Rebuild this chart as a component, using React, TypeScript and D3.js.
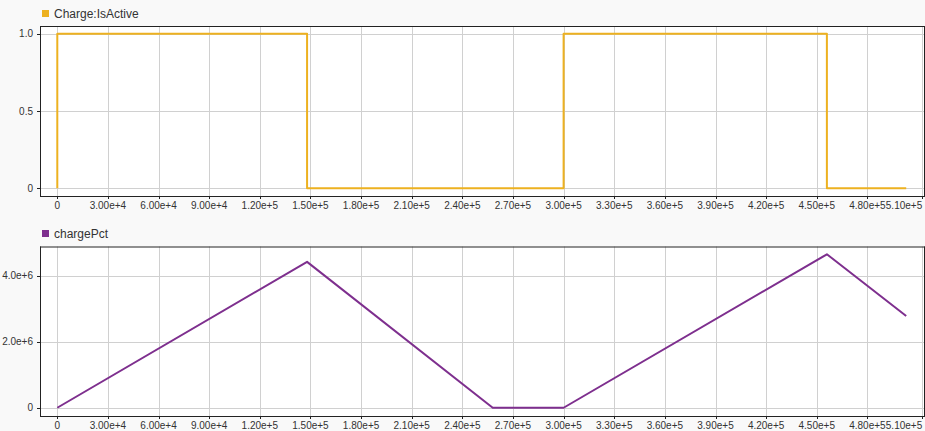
import React from "react";
import * as d3 from "d3";

// ---- data ----
const activeTimes = [0, 0, 148000, 300000, 456000, 503000];
const activeValues = [0, 1, 0, 1, 0, 0];

const chargeTimes = [0, 148000, 258000, 300000, 456000, 503000];
const chargeValues = [0, 4.42e6, 0, 0, 4.65e6, 2.78e6];

const xTickValues = [0, 30000, 60000, 90000, 120000, 150000, 180000, 210000, 240000, 270000, 300000, 330000, 360000, 390000, 420000, 450000, 480000, 512500];
const xTickLabels = ["0", "3.00e+4", "6.00e+4", "9.00e+4", "1.20e+5", "1.50e+5", "1.80e+5", "2.10e+5", "2.40e+5", "2.70e+5", "3.00e+5", "3.30e+5", "3.60e+5", "3.90e+5", "4.20e+5", "4.50e+5", "4.80e+5", "5.10e+5"];

const topYTicks = [0, 0.5, 1.0];
const topYLabels = ["0", "0.5", "1.0"];
const botYTicks = [0, 2e6, 4e6];
const botYLabels = ["0", "2.0e+6", "4.0e+6"];

const W = 925;
const H = 431;
const FONT = "'Liberation Sans', Arial, sans-serif";
const TEXT = "#333";
const AXIS = "#222";
const GRID = "#d0d0d0";

const x = d3.scaleLinear().domain([-10250, 513540]).range([40, 924]);

type PanelProps = {
  top: number;
  bottom: number;
  y: d3.ScaleLinear<number, number>;
  yTicks: number[];
  yLabels: string[];
  path: string;
  color: string;
  label: string;
  legendY: number;
};

function Panel({ top, bottom, y, yTicks, yLabels, path, color, label, legendY }: PanelProps) {
  const left = 40;
  const right = 924;
  const last = xTickValues.length - 1;
  return (
    <g>
      <rect x={42} y={legendY} width={7} height={7} fill={color} />
      <text x={54} y={legendY + 8} fontSize={12} fill={TEXT} fontFamily={FONT}>{label}</text>
      <rect x={left} y={top} width={right - left} height={bottom - top} fill="#fff" />
      {xTickValues.map((v, i) => (
        <line key={"gx" + i} x1={Math.round(x(v)) + 0.5} x2={Math.round(x(v)) + 0.5} y1={top} y2={bottom} stroke={GRID} strokeWidth={1} />
      ))}
      {yTicks.map((v, i) => (
        <line key={"gy" + i} x1={left} x2={right} y1={Math.round(y(v)) + 0.5} y2={Math.round(y(v)) + 0.5} stroke={GRID} strokeWidth={1} />
      ))}
      <path d={path} fill="none" stroke={color} strokeWidth={2} strokeLinejoin="round" />
      <line x1={left} x2={right + 1} y1={top + 0.5} y2={top + 0.5} stroke={AXIS} strokeWidth={1} />
      <line x1={right + 0.5} x2={right + 0.5} y1={top} y2={bottom} stroke={AXIS} strokeWidth={1} />
      <line x1={left + 0.5} x2={left + 0.5} y1={top} y2={bottom + 1} stroke={AXIS} strokeWidth={1} />
      <line x1={left} x2={right + 1} y1={bottom + 0.5} y2={bottom + 0.5} stroke={AXIS} strokeWidth={1} />
      {yTicks.map((v, i) => (
        <g key={"ty" + i}>
          <line x1={37} x2={40} y1={Math.round(y(v)) + 0.5} y2={Math.round(y(v)) + 0.5} stroke={AXIS} />
          <text x={33} y={y(v) + 3.5} fontSize={10} textAnchor="end" fill={TEXT} fontFamily={FONT}>{yLabels[i]}</text>
        </g>
      ))}
      {xTickValues.map((v, i) => (
        <g key={"tx" + i}>
          <line x1={Math.round(x(v)) + 0.5} x2={Math.round(x(v)) + 0.5} y1={bottom} y2={bottom + 3} stroke={AXIS} />
          <text
            x={i === last ? x(v) : x(v)}
            y={bottom + 13}
            fontSize={10}
            textAnchor={i === last ? "end" : "middle"}
            fill={TEXT}
            fontFamily={FONT}
          >
            {xTickLabels[i]}
          </text>
        </g>
      ))}
    </g>
  );
}

export default function App() {
  const yTop = d3.scaleLinear().domain([-0.05, 1.05]).range([196, 26]);
  const yBot = d3.scaleLinear().domain([-0.25e6, 4.88e6]).range([416, 246.7]);

  const stepLine = d3
    .line<number>()
    .x((_, i) => x(activeTimes[i]))
    .y((d) => yTop(d))
    .curve(d3.curveStepAfter);
  const chargeLine = d3
    .line<number>()
    .x((_, i) => x(chargeTimes[i]))
    .y((d) => yBot(d));

  return (
    <svg
      width={W}
      height={H}
      style={{ position: "absolute", left: 0, top: 0, background: "#f9f9f9" }}
    >
      <rect x={0} y={0} width={W} height={H} fill="#f9f9f9" />
      <Panel
        top={26}
        bottom={196}
        y={yTop}
        yTicks={topYTicks}
        yLabels={topYLabels}
        path={stepLine(activeValues) || ""}
        color="#EDB120"
        label="Charge:IsActive"
        legendY={10}
      />
      <Panel
        top={246.5}
        bottom={416}
        y={yBot}
        yTicks={botYTicks}
        yLabels={botYLabels}
        path={chargeLine(chargeValues) || ""}
        color="#7E2F8E"
        label="chargePct"
        legendY={230}
      />
    </svg>
  );
}
